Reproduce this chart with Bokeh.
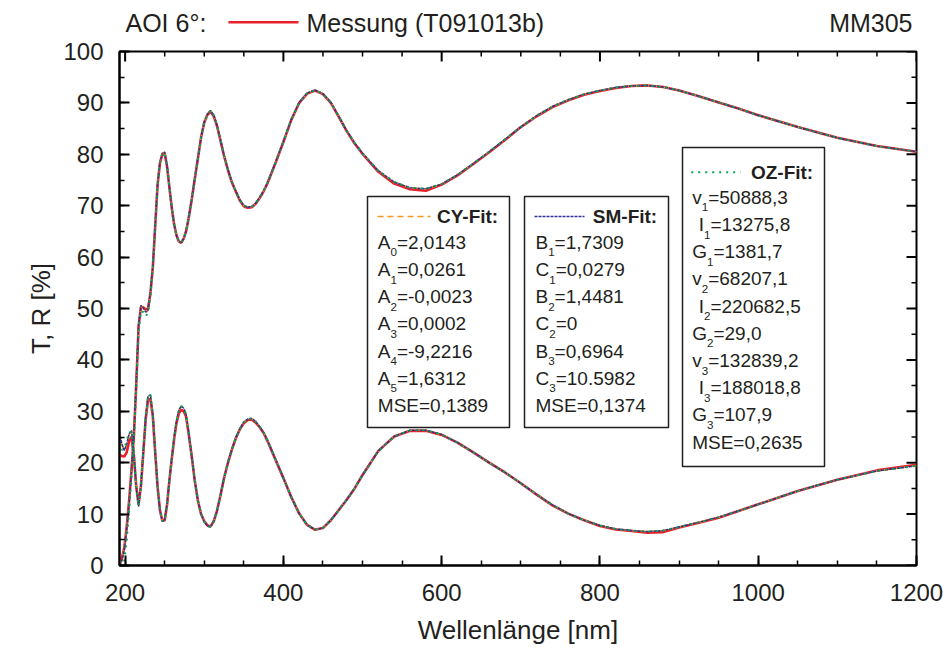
from bokeh.plotting import figure
from bokeh.layouts import column
from bokeh.models import Range1d, FixedTicker
from bokeh.embed import file_html
from bokeh.resources import INLINE
from bokeh.core.properties import value

# ---------------- data ----------------
wavelength = [193, 196, 199, 202, 205, 208, 211, 214, 217, 220,
              223, 226, 229, 232, 235, 238, 241, 244, 247, 250,
              253, 256, 259, 262, 265, 268, 271, 274, 277, 280,
              284, 288, 292, 296, 300, 304, 308, 312, 316, 320,
              325, 330, 335, 340, 345, 350, 355, 360, 365, 370, 375, 380,
              390, 400, 410, 420, 430, 440, 450, 460, 470, 480, 490, 500,
              520, 540, 560, 580, 600, 620, 640, 660, 680, 700, 720, 740, 760, 780, 800, 820, 840, 860, 880, 900,
              925, 950, 975, 1000, 1050, 1100, 1150, 1200]

T_messung = [0.3, 1.5, 3.5, 7.5, 12.5, 18.5, 25.0, 35.0, 46.5, 50.3,
             50.2, 49.8, 50.0, 53.0, 58.0, 66.0, 74.0, 78.3, 80.0, 80.2,
             77.6, 73.5, 69.5, 66.3, 64.2, 63.0, 62.8, 63.6, 65.0, 67.3,
             71.0, 75.2, 79.2, 83.3, 86.2, 87.7, 88.3, 87.4, 85.6, 83.0,
             79.7, 76.9, 74.5, 72.7, 71.0, 69.9, 69.6, 69.7, 70.4, 71.5, 72.8, 74.4,
             78.3, 82.4, 86.7, 90.0, 91.8, 92.4, 91.7, 90.0, 87.3, 84.5, 82.1, 80.1,
             76.6, 74.3, 73.2, 72.9, 74.1, 75.9, 78.1, 80.4, 82.8, 85.3, 87.4, 89.2, 90.5, 91.6, 92.3, 92.9, 93.3, 93.4, 93.1, 92.4,
             91.3, 90.1, 88.9, 87.6, 85.3, 83.2, 81.6, 80.5]
T_cy = [0.0, 1.2, 3.3, 7.2, 12.2, 18.3, 25.0, 35.5, 46.5, 50.5,
        50.0, 49.2, 49.6, 53.0, 58.2, 66.2, 74.2, 78.5, 80.2, 80.4,
        77.8, 73.6, 69.6, 66.4, 64.2, 63.0, 62.9, 63.6, 65.1, 67.4,
        71.1, 75.3, 79.3, 83.4, 86.3, 87.8, 88.5, 87.6, 85.7, 83.1,
        79.8, 77.0, 74.6, 72.8, 71.1, 70.0, 69.7, 69.8, 70.5, 71.6, 72.9, 74.5,
        78.4, 82.5, 86.8, 90.1, 91.9, 92.5, 91.8, 90.1, 87.4, 84.6, 82.2, 80.2,
        76.8, 74.6, 73.5, 73.3, 74.2, 76.0, 78.2, 80.5, 82.9, 85.3, 87.5, 89.3, 90.6, 91.7, 92.4, 93.0, 93.3, 93.4, 93.1, 92.4,
        91.3, 90.1, 88.9, 87.6, 85.3, 83.2, 81.6, 80.5]
T_sm = [0.0, 1.0, 3.0, 7.0, 12.0, 18.2, 25.2, 35.8, 46.8, 50.6,
        50.1, 49.3, 49.7, 53.1, 58.3, 66.2, 74.2, 78.5, 80.2, 80.4,
        77.8, 73.6, 69.6, 66.4, 64.2, 63.0, 62.9, 63.6, 65.1, 67.4,
        71.1, 75.3, 79.3, 83.4, 86.3, 87.8, 88.5, 87.6, 85.7, 83.1,
        79.8, 77.0, 74.6, 72.8, 71.1, 70.0, 69.7, 69.8, 70.5, 71.6, 72.9, 74.5,
        78.4, 82.5, 86.8, 90.1, 91.9, 92.5, 91.8, 90.1, 87.4, 84.6, 82.2, 80.2,
        76.8, 74.6, 73.5, 73.3, 74.2, 76.0, 78.2, 80.5, 82.9, 85.3, 87.5, 89.3, 90.6, 91.7, 92.4, 93.0, 93.3, 93.4, 93.1, 92.4,
        91.3, 90.1, 88.9, 87.6, 85.3, 83.2, 81.6, 80.5]
T_oz = [0.0, 0.0, 1.0, 5.0, 10.5, 17.0, 24.0, 34.0, 45.5, 49.5,
        49.3, 48.5, 49.2, 52.5, 58.0, 66.0, 74.0, 78.4, 80.1, 80.3,
        77.8, 73.6, 69.6, 66.4, 64.2, 63.0, 62.9, 63.6, 65.1, 67.4,
        71.1, 75.3, 79.3, 83.4, 86.3, 87.8, 88.5, 87.6, 85.7, 83.1,
        79.8, 77.0, 74.6, 72.8, 71.1, 70.0, 69.7, 69.8, 70.5, 71.6, 72.9, 74.5,
        78.4, 82.5, 86.8, 90.1, 91.9, 92.4, 91.8, 90.1, 87.4, 84.6, 82.2, 80.2,
        76.8, 74.6, 73.5, 73.3, 74.2, 76.0, 78.2, 80.5, 82.9, 85.3, 87.5, 89.3, 90.6, 91.7, 92.4, 93.0, 93.3, 93.4, 93.1, 92.4,
        91.3, 90.1, 88.9, 87.6, 85.3, 83.2, 81.6, 80.5]

R_messung = [21.5, 21.3, 21.2, 22.0, 24.2, 25.0, 21.5, 15.5, 11.9, 15.5,
             22.0, 28.5, 32.3, 32.4, 29.0, 22.0, 15.3, 10.8, 8.7, 8.8,
             11.8, 16.6, 20.8, 24.7, 27.8, 29.7, 30.3, 30.0, 29.0, 26.0,
             21.4, 16.5, 12.6, 10.0, 8.6, 7.8, 7.6, 8.6, 10.6, 13.3,
             17.0, 20.0, 22.6, 24.8, 26.5, 27.7, 28.3, 28.4, 27.8, 26.9, 25.8, 24.2,
             20.6, 17.0, 13.3, 10.1, 7.9, 6.95, 7.3, 8.8, 10.8, 12.8, 15.0, 17.6,
             22.3, 25.1, 26.2, 26.2, 25.4, 23.9, 22.0, 20.0, 18.1, 16.0, 13.8, 11.7, 10.1, 8.8, 7.7, 7.0, 6.7, 6.4, 6.5, 7.4,
             8.3, 9.3, 10.6, 11.9, 14.5, 16.7, 18.5, 19.6]
R_cy = [25.7, 23.5, 22.3, 23.5, 25.5, 26.2, 22.0, 15.2, 11.5, 15.5,
        22.3, 29.0, 33.0, 33.2, 29.5, 22.3, 15.4, 10.8, 8.6, 8.8,
        12.0, 16.8, 21.0, 25.0, 28.2, 30.3, 31.0, 30.6, 29.4, 26.3,
        21.5, 16.5, 12.6, 10.0, 8.5, 7.7, 7.5, 8.6, 10.6, 13.3,
        17.0, 20.1, 22.7, 24.9, 26.6, 27.9, 28.5, 28.6, 28.0, 27.0, 25.9, 24.3,
        20.7, 17.0, 13.3, 10.1, 7.9, 7.0, 7.3, 8.8, 10.8, 12.8, 15.0, 17.6,
        22.3, 25.1, 26.3, 26.3, 25.5, 23.9, 22.0, 20.0, 18.1, 16.0, 13.8, 11.8, 10.1, 8.8, 7.8, 7.1, 6.8, 6.6, 6.8, 7.5,
        8.4, 9.4, 10.6, 11.9, 14.5, 16.7, 18.4, 19.4]
R_sm = [25.9, 23.6, 22.4, 23.6, 25.6, 26.3, 22.1, 15.2, 11.5, 15.5,
        22.3, 29.0, 33.0, 33.2, 29.5, 22.3, 15.4, 10.8, 8.6, 8.8,
        12.0, 16.8, 21.0, 25.0, 28.2, 30.3, 31.0, 30.6, 29.4, 26.3,
        21.5, 16.5, 12.6, 10.0, 8.5, 7.7, 7.5, 8.6, 10.6, 13.3,
        17.0, 20.1, 22.7, 24.9, 26.6, 27.9, 28.5, 28.6, 28.0, 27.0, 25.9, 24.3,
        20.7, 17.0, 13.3, 10.1, 7.9, 7.0, 7.3, 8.8, 10.8, 12.8, 15.0, 17.6,
        22.3, 25.1, 26.3, 26.3, 25.5, 23.9, 22.0, 20.0, 18.1, 16.0, 13.8, 11.8, 10.1, 8.8, 7.8, 7.1, 6.8, 6.6, 6.8, 7.5,
        8.4, 9.4, 10.6, 11.9, 14.5, 16.7, 18.4, 19.4]
R_oz = [24.0, 22.5, 22.8, 24.3, 25.8, 26.0, 21.8, 15.0, 11.6, 15.6,
        22.3, 29.0, 33.0, 33.2, 29.5, 22.3, 15.4, 10.8, 8.6, 8.8,
        12.0, 16.8, 21.0, 25.0, 28.2, 30.3, 31.0, 30.6, 29.4, 26.3,
        21.5, 16.5, 12.6, 10.0, 8.5, 7.7, 7.5, 8.6, 10.6, 13.3,
        17.0, 20.1, 22.7, 24.9, 26.6, 27.9, 28.5, 28.6, 28.0, 27.0, 25.9, 24.3,
        20.7, 17.0, 13.3, 10.1, 7.9, 7.0, 7.3, 8.8, 10.8, 12.8, 15.0, 17.6,
        22.3, 25.1, 26.3, 26.3, 25.5, 23.9, 22.0, 20.0, 18.1, 16.0, 13.8, 11.8, 10.1, 8.8, 7.8, 7.1, 6.8, 6.6, 6.8, 7.5,
        8.4, 9.4, 10.6, 11.9, 14.5, 16.7, 18.4, 19.4]

x_major_ticks = [200, 400, 600, 800, 1000, 1200]
x_minor_ticks = list(range(200, 1201, 50))
y_major_ticks = list(range(0, 101, 10))
y_minor_ticks = list(range(0, 101, 5))

cy_title = "CY-Fit:"
cy_rows = [("A", "0", "=2,0143"), ("A", "1", "=0,0261"), ("A", "2", "=-0,0023"),
           ("A", "3", "=0,0002"), ("A", "4", "=-9,2216"), ("A", "5", "=1,6312"),
           ("MSE=0,1389", "", "")]
sm_title = "SM-Fit:"
sm_rows = [("B", "1", "=1,7309"), ("C", "1", "=0,0279"), ("B", "2", "=1,4481"),
           ("C", "2", "=0"), ("B", "3", "=0,6964"), ("C", "3", "=10.5982"),
           ("MSE=0,1374", "", "")]
oz_title = "OZ-Fit:"
oz_rows = [("v", "1", "=50888,3"), ("I", "1", "=13275,8"), ("G", "1", "=1381,7"),
           ("v", "2", "=68207,1"), ("I", "2", "=220682,5"), ("G", "2", "=29,0"),
           ("v", "3", "=132839,2"), ("I", "3", "=188018,8"), ("G", "3", "=107,9"),
           ("MSE=0,2635", "", "")]

# ---------------- styling / layout ----------------
FONT = "Liberation Sans"
TXT = "#231f20"
RED, ORANGE, NAVY, GREEN = "#e8202a", "#f7941d", "#2e3192", "#00a651"

W, H, HEAD_H = 943, 650, 37
FRAME_L, FRAME_R, FRAME_T, FRAME_B = 119, 916, 51, 565
X0, X1 = 192.9, 1200.0
Y0, Y1 = 0.0, 100.0
PXX = (FRAME_R - FRAME_L) / (X1 - X0)
PXY = (FRAME_B - FRAME_T) / (Y1 - Y0)


def dx(px):
    return X0 + (px - FRAME_L) / PXX


def dy(py):
    return Y0 + (FRAME_B - py) / PXY


ARIAL = {'A': 667, 'B': 667, 'C': 722, 'G': 778, 'I': 278, 'M': 833, 'S': 667,
         'E': 667, 'v': 500, '=': 584, ',': 278, '-': 333, '.': 278, ' ': 278}


def tw(s, size):
    return sum(ARIAL.get(c, 556) for c in s) * size / 1000.0


p = figure(width=W, height=H - HEAD_H, x_range=Range1d(X0, X1), y_range=Range1d(Y0, Y1),
           output_backend="svg", toolbar_location=None,
           min_border_left=FRAME_L, min_border_right=W - FRAME_R,
           min_border_top=FRAME_T - HEAD_H, min_border_bottom=H - FRAME_B)
p.grid.visible = False
p.outline_line_color = "black"
p.outline_line_width = 2
p.background_fill_color = "white"
p.border_fill_color = "white"

xt = FixedTicker(ticks=x_major_ticks, minor_ticks=x_minor_ticks)
yt = FixedTicker(ticks=y_major_ticks, minor_ticks=y_minor_ticks)

for ax in (p.xaxis[0], p.yaxis[0]):
    ax.axis_line_color = "black"
    ax.axis_line_width = 2
    ax.major_tick_in = 10
    ax.major_tick_out = 0
    ax.minor_tick_in = 5
    ax.minor_tick_out = 0
    ax.major_tick_line_color = "black"
    ax.minor_tick_line_color = "black"
    ax.major_tick_line_width = 2
    ax.minor_tick_line_width = 1.5
    ax.major_label_text_font = FONT
    ax.major_label_text_color = TXT
    ax.major_label_text_font_size = "24px"
    ax.major_label_standoff = 16
    ax.axis_label_text_font = FONT
    ax.axis_label_text_color = TXT
    ax.axis_label_text_font_style = "normal"
    ax.axis_label_text_font_size = "26px"

p.xaxis.ticker = xt
p.yaxis.ticker = yt
p.xaxis.axis_label = "Wellenlänge [nm]"
p.yaxis.axis_label = "T, R [%]"
p.xaxis.major_label_standoff = 18
p.xaxis.axis_label_standoff = 11
p.yaxis.axis_label_standoff = 4

# inward ticks on the top and right frame edges
top_minor = [t for t in x_minor_ticks if t not in x_major_ticks]
right_minor = [t for t in y_minor_ticks if t not in y_major_ticks]
p.segment(x0=x_major_ticks, x1=x_major_ticks, y0=[Y1] * len(x_major_ticks),
          y1=[Y1 - 10 / PXY] * len(x_major_ticks), line_color="black", line_width=2)
p.segment(x0=top_minor, x1=top_minor, y0=[Y1] * len(top_minor),
          y1=[Y1 - 5 / PXY] * len(top_minor), line_color="black", line_width=1.5)
p.segment(x0=[X1] * len(y_major_ticks), x1=[X1 - 10 / PXX] * len(y_major_ticks),
          y0=y_major_ticks, y1=y_major_ticks, line_color="black", line_width=2)
p.segment(x0=[X1] * len(right_minor), x1=[X1 - 5 / PXX] * len(right_minor),
          y0=right_minor, y1=right_minor, line_color="black", line_width=1.5)

# curves
for T, R, col, lw, dash in [
        (T_messung, R_messung, RED, 2.6, "solid"),
        (T_cy, R_cy, ORANGE, 1.6, "6 4"),
        (T_sm, R_sm, NAVY, 1.5, "3 1"),
        (T_oz, R_oz, GREEN, 2.0, "2 5")]:
    p.line(wavelength, T, line_color=col, line_width=lw, line_dash=dash)
    p.line(wavelength, R, line_color=col, line_width=lw, line_dash=dash)

# parameter boxes
BOX_FS = 19
SUB_FS = 11.6


def param_box(left, right, top, bottom, title, title_right, title_mid,
              sample, color, dash, lw, text_left, first_mid, rows, indent_I):
    p.quad(left=[dx(left)], right=[dx(right)], top=[dy(top)], bottom=[dy(bottom)],
           fill_color="white", line_color="#231f20", line_width=1.5)
    p.line([dx(sample[0]), dx(sample[1])], [dy(title_mid)] * 2,
           line_color=color, line_width=lw, line_dash=dash)
    p.text(x=[dx(title_right)], y=[dy(title_mid)], text=[title],
           text_font=value(FONT), text_font_size=value(f"{BOX_FS}px"),
           text_font_style="bold", text_color=TXT, text_align="right",
           text_baseline="middle")
    mx, my, mt, sx, sy, st = [], [], [], [], [], []
    for i, (a, s, b) in enumerate(rows):
        mid = first_mid + 27.2 * i
        x = text_left + (indent_I if a == "I" else 0)
        mx.append(dx(x)); my.append(dy(mid)); mt.append(a)
        if s:
            xs = x + tw(a, BOX_FS)
            sx.append(dx(xs)); sy.append(dy(mid + 10.2)); st.append(s)
            xb = xs + tw(s, SUB_FS)
            mx.append(dx(xb)); my.append(dy(mid)); mt.append(b)
    p.text(x=mx, y=my, text=mt, text_font=value(FONT), text_font_size=value(f"{BOX_FS}px"),
           text_color=TXT, text_align="left", text_baseline="middle")
    p.text(x=sx, y=sy, text=st, text_font=value(FONT), text_font_size=value(f"{SUB_FS}px"),
           text_color=TXT, text_align="left", text_baseline="middle")


param_box(367, 509, 196, 427, cy_title, 497.7, 216.0, (377, 430), ORANGE, "6 4", 1.6,
          377.3, 241.7, cy_rows, 0)
param_box(524, 668, 196, 427, sm_title, 656.7, 216.0, (534, 584), NAVY, "3 1", 1.5,
          535.0, 241.7, sm_rows, 0)
param_box(682, 824, 147, 466, oz_title, 812.7, 171.7, (690.7, 740), GREEN, "2 5", 2.0,
          691.7, 196.7, oz_rows, 6.5)

# header line (above the frame); its frame is aligned with the main frame
h = figure(width=W, height=HEAD_H, x_range=Range1d(FRAME_L, FRAME_R), y_range=Range1d(HEAD_H, 0),
           output_backend="svg", toolbar_location=None, min_border=0,
           min_border_left=FRAME_L, min_border_right=W - FRAME_R,
           x_axis_location=None, y_axis_location=None)
h.grid.visible = False
h.outline_line_color = None
h.background_fill_color = "white"
h.border_fill_color = "white"
HDR_MID = 22.0
h.text(x=[125], y=[HDR_MID], text=["AOI 6°:"], text_font=value(FONT), text_font_size=value("25px"),
       text_color=TXT, text_align="left", text_baseline="middle")
h.line([228, 298], [21.7, 21.7], line_color=RED, line_width=2.6)
h.text(x=[306], y=[HDR_MID], text=["Messung (T091013b)"], text_font=value(FONT),
       text_font_size=value("25px"), text_color=TXT, text_align="left", text_baseline="middle")
h.text(x=[912], y=[HDR_MID], text=["MM305"], text_font=value(FONT), text_font_size=value("25px"),
       text_color=TXT, text_align="right", text_baseline="middle")

layout = column(h, p, spacing=0)
open("out.html", "w").write(file_html(layout, INLINE))
